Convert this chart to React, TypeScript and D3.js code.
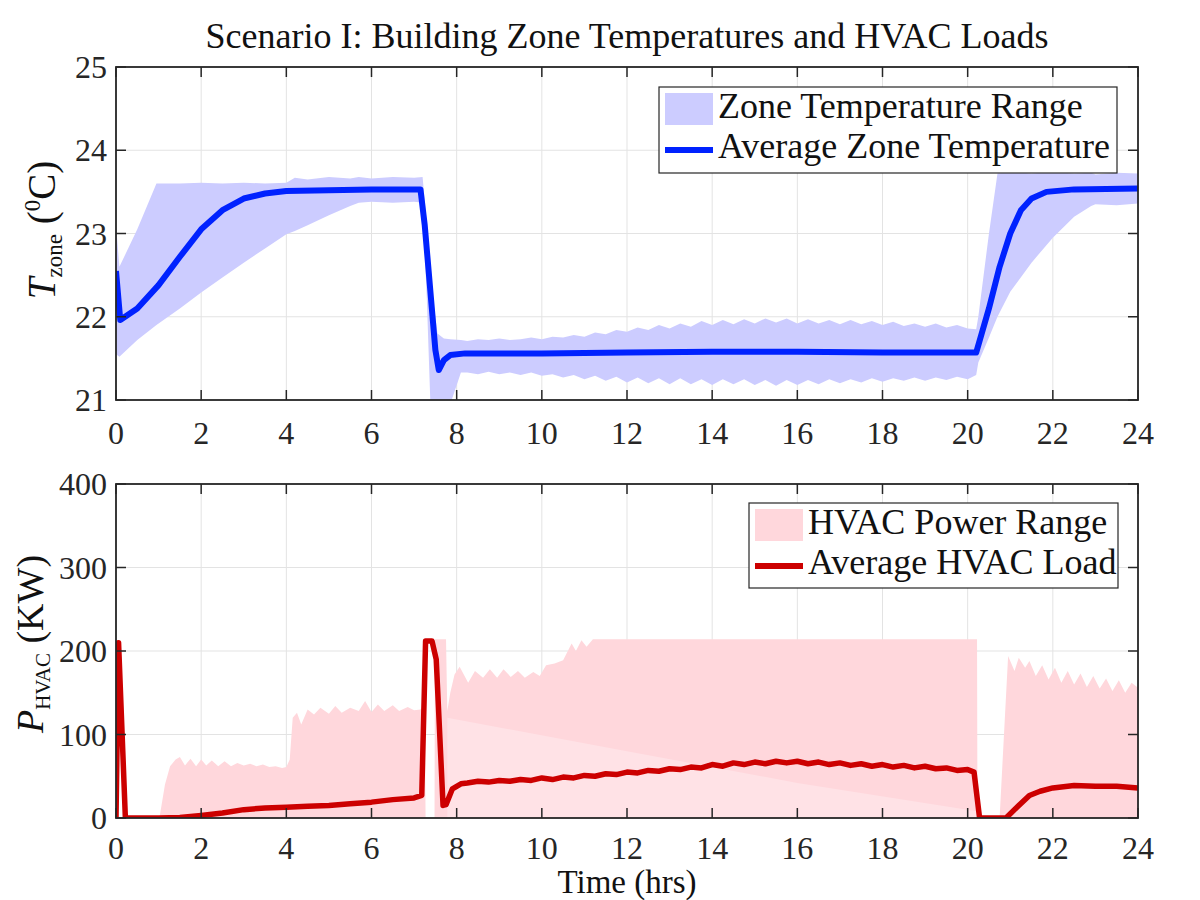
import React from "react";
import * as d3 from "d3";

// ---- data ----
const timeTicks = [0, 2, 4, 6, 8, 10, 12, 14, 16, 18, 20, 22, 24];
const tempTicks = [21, 22, 23, 24, 25];
const powerTicks = [0, 100, 200, 300, 400];

// quarter-hour samples used in the occupied period
const midGrid = [
  8.25, 8.5, 8.75, 9, 9.25, 9.5, 9.75, 10, 10.25, 10.5, 10.75, 11, 11.25, 11.5, 11.75, 12,
  12.25, 12.5, 12.75, 13, 13.25, 13.5, 13.75, 14, 14.25, 14.5, 14.75, 15, 15.25, 15.5, 15.75, 16,
  16.25, 16.5, 16.75, 17, 17.25, 17.5, 17.75, 18, 18.25, 18.5, 18.75, 19, 19.25, 19.5, 19.75, 20,
];

// zone temperature range (min / max over zones)
const tempBandTime = [
  0, 0.08, 0.5, 0.95, 1.5, 2, 2.5, 3, 3.5, 4, 4.2, 4.5, 5, 5.5, 5.7, 6, 6.5, 7, 7.2, 7.3, 7.4, 7.55, 7.7, 7.85, 8.1,
  ...midGrid, 20.2,
  20.25, 20.5, 20.7, 21, 21.5, 22, 22.5, 22.9, 23, 23.5, 24,
];
const tempBandUpper = [
  23.1, 22.6, 23.05, 23.6, 23.6, 23.61, 23.6, 23.61, 23.6, 23.61, 23.67, 23.65, 23.68, 23.66, 23.68, 23.66, 23.68, 23.67, 23.68, 23.1, 22.4, 21.8, 21.74, 21.73, 21.72,
  21.71, 21.73, 21.72, 21.74, 21.72, 21.73, 21.75, 21.73, 21.76, 21.75,
  21.78, 21.76, 21.81, 21.79, 21.84, 21.82, 21.87, 21.84, 21.9, 21.86,
  21.92, 21.88, 21.95, 21.9, 21.96, 21.91, 21.97, 21.92, 21.98, 21.93,
  21.98, 21.92, 21.97, 21.92, 21.96, 21.91, 21.96, 21.91, 21.95, 21.9,
  21.94, 21.89, 21.92, 21.88, 21.92, 21.87, 21.9, 21.86, 21.85,
  22.0, 23.0, 23.72, 23.74, 23.72, 23.74, 23.72, 23.73, 23.71, 23.73, 23.72,
];
const tempBandLower = [
  21.55, 21.52, 21.72, 21.9, 22.1, 22.29, 22.47, 22.65, 22.82, 22.99, 23.03, 23.1, 23.22, 23.33, 23.37, 23.38, 23.37, 23.38, 23.37, 22.2, 20.7, 20.6, 20.7, 20.95, 21.33,
  21.33, 21.31, 21.34, 21.31, 21.33, 21.3, 21.33, 21.29, 21.31, 21.27,
  21.3, 21.25, 21.29, 21.23, 21.28, 21.21, 21.27, 21.2, 21.26, 21.19,
  21.26, 21.19, 21.25, 21.18, 21.25, 21.19, 21.25, 21.18, 21.24, 21.17,
  21.24, 21.18, 21.24, 21.19, 21.25, 21.2, 21.25, 21.21, 21.26, 21.22,
  21.26, 21.23, 21.27, 21.23, 21.27, 21.24, 21.28, 21.25, 21.3,
  21.45, 21.75, 22.0, 22.3, 22.65, 22.95, 23.2, 23.33, 23.35, 23.34, 23.36,
];

// average zone temperature
const tempAvgTime = [
  0, 0.1, 0.5, 1, 1.5, 2, 2.5, 3, 3.5, 4, 5, 6, 7.15, 7.25, 7.4, 7.5, 7.58, 7.7, 7.85, 8.2,
  10, 12, 14, 16, 18, 20.2, 20.5, 20.75, 21, 21.25, 21.5, 21.85, 22.5, 24,
];
const tempAvg = [
  22.55, 21.96, 22.1, 22.38, 22.72, 23.05, 23.28, 23.42, 23.48, 23.51, 23.52, 23.53, 23.53, 23.1, 22.2, 21.6, 21.36, 21.48, 21.54, 21.56,
  21.56, 21.57, 21.58, 21.58, 21.57, 21.57, 22.1, 22.6, 23.0, 23.28, 23.42, 23.5, 23.53, 23.54,
];

// HVAC power range (max over zones, min is 0)
const powerBandTime = [
  1.02, 1.15, 1.27, 1.4, 1.5, 1.62, 1.75, 1.88, 2.0, 2.12, 2.25, 2.4, 2.55, 2.7, 2.85, 3.0, 3.15, 3.3, 3.45, 3.6,
  3.75, 3.9, 4.0, 4.08, 4.15, 4.25, 4.35, 4.5, 4.65, 4.8, 5.0, 5.15, 5.3, 5.5, 5.7, 5.85, 6.0, 6.15, 6.3, 6.5,
  6.65, 6.85, 7.0, 7.15, 7.25, 7.27,
  7.48, 7.49, 7.75, 7.78, 7.85, 7.95, 8.07, 8.27, 8.43, 8.62, 8.78, 8.95, 9.1, 9.27, 9.44, 9.6, 9.8, 9.95, 10.1, 10.3,
  10.5, 10.7, 10.8, 10.93, 11.05, 11.2, 20.22, 20.23,
  20.75, 20.95, 21.1, 21.2, 21.35, 21.45, 21.6, 21.75, 21.9, 22.05, 22.2, 22.35, 22.5, 22.65, 22.8, 22.95, 23.1, 23.25, 23.4, 23.55,
  23.7, 23.85, 24,
];
const powerBandUpper = [
  0, 40, 62, 70, 73, 63, 71, 62, 70, 63, 69, 62, 68, 62, 66, 63, 65, 62, 64, 61,
  62, 60, 61, 70, 120, 126, 112, 130, 124, 132, 125, 134, 126, 132, 128, 140, 127, 136, 128, 135,
  128, 133, 129, 130, 135, 0,
  0, 214, 214, 128, 150, 172, 181, 162, 176, 168, 178, 168, 178, 169, 176, 168, 175, 170, 183, 185,
  189, 209, 200, 213, 205, 214, 214, 0,
  0, 194, 176, 192, 180, 188, 170, 183, 166, 180, 162, 176, 160, 173, 157, 170, 155, 167, 152, 165,
  150, 162, 156,
];
// lighter lower part of the occupied-period range
const powerShadeTime = [7.78, 12, 16, 20.22];
const powerShadeTop = [120, 80, 42, 8];

// average HVAC load
const powerAvgTime = [
  0, 0.06, 0.22, 1.0, 1.5, 2.0, 2.5, 3.0, 3.5, 4.0, 4.5, 5.0, 5.5, 6.0, 6.5, 7.0, 7.18, 7.27, 7.42, 7.52,
  7.68, 7.75, 7.9, 8.1,
  ...midGrid,
  20.15, 20.28, 20.9, 21.2, 21.45, 21.7, 22.0, 22.5, 23.0, 23.5, 24,
];
const powerAvg = [
  0, 210, 0, 0, 0.5, 3, 6, 10, 12, 13, 14, 15, 17, 19, 22, 24, 27, 212, 212, 190,
  15, 16, 35, 41,
  42, 44, 43, 45, 44, 46, 45, 48, 46, 49,
  48, 51, 50, 53, 52, 55, 54, 57, 56, 59,
  58, 61, 60, 64, 62, 66, 64, 67, 65, 68,
  66, 68, 65, 67, 64, 66, 63, 65, 62, 64,
  61, 63, 60, 62, 59, 60, 57, 58,
  55, 0, 0, 15, 27, 32, 36, 39, 38, 38, 36,
];

// ---- layout ----
const W = 1200;
const H = 900;
const left = 116;
const right = 1138;
const topBox = { y0: 67, y1: 400 };
const botBox = { y0: 484, y1: 818 };

const serif = "'Liberation Serif', 'Times New Roman', serif";
const frame = "#262626";
const grid = "#e3e3e3";

const x = d3.scaleLinear().domain([0, 24]).range([left, right]);
const yT = d3.scaleLinear().domain([21, 25]).range([topBox.y1, topBox.y0]);
const yP = d3.scaleLinear().domain([0, 400]).range([botBox.y1, botBox.y0]);

function bandPath(t: number[], lo: (i: number) => number, hi: number[], y: any) {
  const idx = d3.range(t.length);
  return d3
    .area<number>()
    .x((i) => x(t[i]))
    .y0((i) => y(lo(i)))
    .y1((i) => y(hi[i]))(idx) as string;
}

function linePath(t: number[], v: number[], y: any) {
  const idx = d3.range(t.length);
  return d3
    .line<number>()
    .x((i) => x(t[i]))
    .y((i) => y(v[i]))(idx) as string;
}

function Axes({ y, box, yTicks, id, labelGap, children }: any) {
  const tick = 10;
  return (
    <g>
      <defs>
        <clipPath id={id}>
          <rect x={left} y={box.y0} width={right - left} height={box.y1 - box.y0} />
        </clipPath>
      </defs>
      {/* grid */}
      {timeTicks.map((t) => (
        <line key={"gx" + t} x1={x(t)} x2={x(t)} y1={box.y0} y2={box.y1} stroke={grid} strokeWidth={1} />
      ))}
      {yTicks.map((v: number) => (
        <line key={"gy" + v} x1={left} x2={right} y1={y(v)} y2={y(v)} stroke={grid} strokeWidth={1} />
      ))}
      <g clipPath={`url(#${id})`}>{children}</g>
      {/* ticks, inward on all sides */}
      {timeTicks.map((t) => (
        <g key={"tx" + t}>
          <line x1={x(t)} x2={x(t)} y1={box.y1} y2={box.y1 - tick} stroke={frame} strokeWidth={1.5} />
          <line x1={x(t)} x2={x(t)} y1={box.y0} y2={box.y0 + tick} stroke={frame} strokeWidth={1.5} />
          <text x={x(t)} y={box.y1 + labelGap} textAnchor="middle" fontSize={32} fill="#262626">
            {t}
          </text>
        </g>
      ))}
      {yTicks.map((v: number) => (
        <g key={"ty" + v}>
          <line x1={left} x2={left + tick} y1={y(v)} y2={y(v)} stroke={frame} strokeWidth={1.5} />
          <line x1={right} x2={right - tick} y1={y(v)} y2={y(v)} stroke={frame} strokeWidth={1.5} />
          <text x={107} y={y(v) + 11} textAnchor="end" fontSize={32} fill="#262626">
            {v}
          </text>
        </g>
      ))}
      <rect x={left} y={box.y0} width={right - left} height={box.y1 - box.y0} fill="none" stroke={frame} strokeWidth={1.8} />
    </g>
  );
}

function Legend({ x0, y0, w, h, patch, line, labels }: any) {
  return (
    <g>
      <rect x={x0} y={y0} width={w} height={h} fill="white" stroke={frame} strokeWidth={1.2} />
      <rect x={x0 + 6} y={y0 + 6} width={48} height={32} fill={patch} />
      <line x1={x0 + 6} x2={x0 + 54} y1={y0 + 63} y2={y0 + 63} stroke={line} strokeWidth={6} />
      <text x={x0 + 59} y={y0 + 31} fontSize={36} fill="#111">
        {labels[0]}
      </text>
      <text x={x0 + 59} y={y0 + 71} fontSize={36} fill="#111">
        {labels[1]}
      </text>
    </g>
  );
}

export default function App() {
  return (
    <svg
      width={W}
      height={H}
      style={{ position: "absolute", left: 0, top: 0, background: "white" }}
      fontFamily={serif}
    >
      <rect width={W} height={H} fill="white" />
      <text x={(left + right) / 2} y={48} textAnchor="middle" fontSize={36} fill="#111">
        Scenario I: Building Zone Temperatures and HVAC Loads
      </text>

      {/* ---- top: zone temperatures ---- */}
      <Axes y={yT} box={topBox} yTicks={tempTicks} id="clipTop" labelGap={44}>
        <path d={bandPath(tempBandTime, (i) => tempBandLower[i], tempBandUpper, yT)} fill="#ccccff" />
        <path d={linePath(tempAvgTime, tempAvg, yT)} fill="none" stroke="#0022ff" strokeWidth={6} strokeLinejoin="round" />
      </Axes>
      <Legend
        x0={659}
        y0={87}
        w={458}
        h={86}
        patch="#ccccff"
        line="#0022ff"
        labels={["Zone Temperature Range", "Average Zone Temperature"]}
      />
      <text transform="translate(55,230) rotate(-90)" textAnchor="middle" fontSize={39} fill="#111">
        <tspan fontStyle="italic">T</tspan>
        <tspan fontSize={23} dy={7}>zone</tspan>
        <tspan dy={-7}> (</tspan>
        <tspan fontSize={23} dy={-15}>0</tspan>
        <tspan dy={15}>C)</tspan>
      </text>

      {/* ---- bottom: HVAC loads ---- */}
      <Axes y={yP} box={botBox} yTicks={powerTicks} id="clipBot" labelGap={41}>
        <path d={bandPath(powerBandTime, () => 0, powerBandUpper, yP)} fill="#ffd7dc" />
        <path d={bandPath(powerShadeTime, () => 0, powerShadeTop, yP)} fill="#ffe2e6" />
        <path d={linePath(powerAvgTime, powerAvg, yP)} fill="none" stroke="#cc0000" strokeWidth={5.5} strokeLinejoin="round" />
      </Axes>
      <Legend
        x0={749}
        y0={503}
        w={369}
        h={85}
        patch="#ffd7dc"
        line="#cc0000"
        labels={["HVAC Power Range", "Average HVAC Load"]}
      />
      <text transform="translate(43,644) rotate(-90)" textAnchor="middle" fontSize={38} fill="#111">
        <tspan fontStyle="italic">P</tspan>
        <tspan fontSize={21} dy={7}>HVAC</tspan>
        <tspan dy={-7}> (KW)</tspan>
      </text>

      <text x={(left + right) / 2} y={893} textAnchor="middle" fontSize={33} fill="#111">
        Time (hrs)
      </text>
    </svg>
  );
}
